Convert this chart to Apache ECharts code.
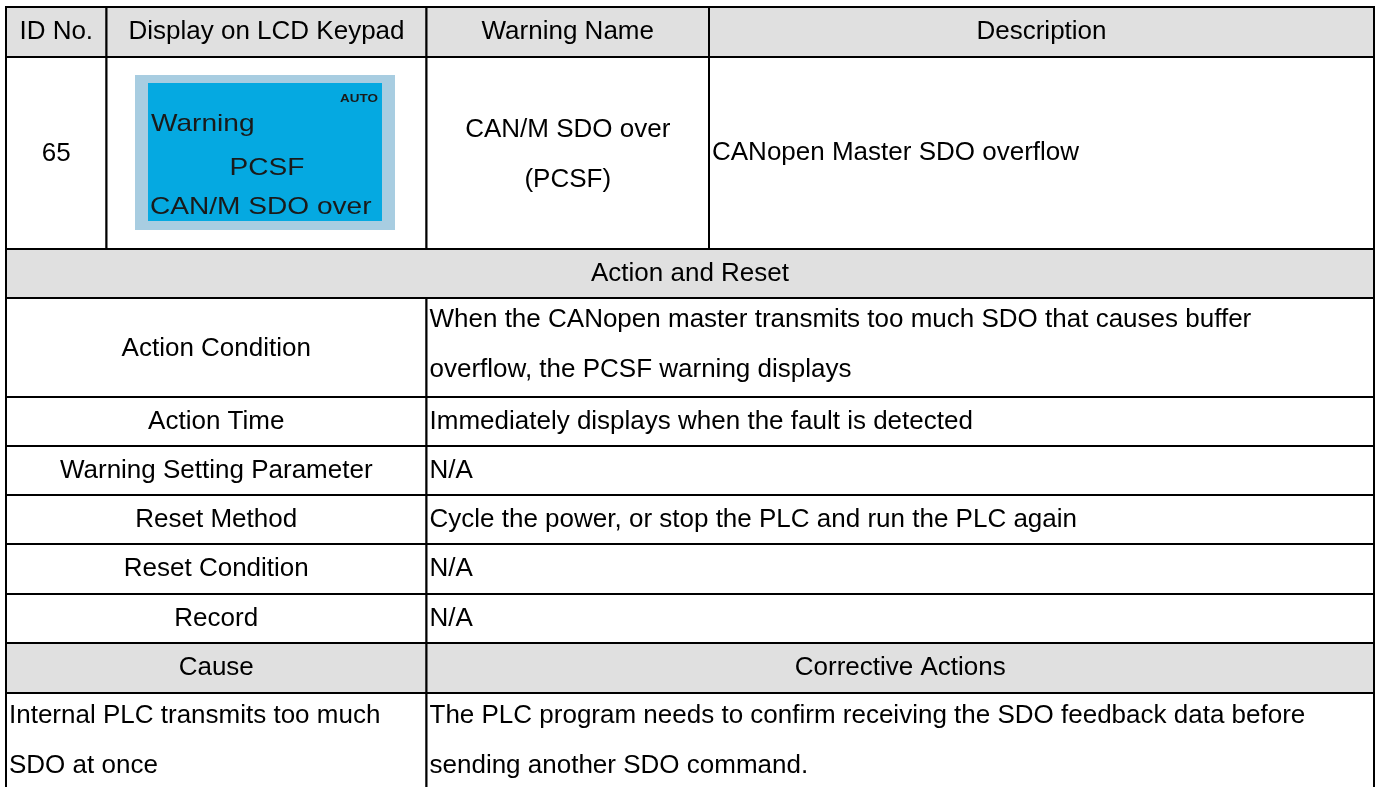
<!DOCTYPE html>
<html>
<head>
<meta charset="utf-8">
<script src="https://cdn.jsdelivr.net/npm/echarts@6/dist/echarts.min.js"></script>
<style>
html,body{margin:0;padding:0;background:#fff;}
#chart{width:1379px;height:787px;}
</style>
</head>
<body>
<div id="chart"></div>
<script>
// ---- table content ----
const headerLabels = ['ID No.', 'Display on LCD Keypad', 'Warning Name', 'Description'];
const warningId = '65';
const lcdAuto = 'AUTO';
const lcdTitle = 'Warning';
const lcdCode = 'PCSF';
const lcdName = 'CAN/M SDO over';
const warningName = ['CAN/M SDO over', '(PCSF)'];
const description = ['CANopen Master SDO overflow'];
const sectionTitle = 'Action and Reset';
const actionLabels = ['Action Condition', 'Action Time', 'Warning Setting Parameter', 'Reset Method', 'Reset Condition', 'Record'];
const actionValues = [
  ['When the CANopen master transmits too much SDO that causes buffer', 'overflow, the PCSF warning displays'],
  ['Immediately displays when the fault is detected'],
  ['N/A'],
  ['Cycle the power, or stop the PLC and run the PLC again'],
  ['N/A'],
  ['N/A']
];
const causeHeaders = ['Cause', 'Corrective Actions'];
const causeText = ['Internal PLC transmits too much', 'SDO at once'];
const correctiveText = ['The PLC program needs to confirm receiving the SDO feedback data before', 'sending another SDO command.'];

// ---- layout ----
const W = 1379, H = 787;
const colX = [6, 106.5, 426.5, 709, 1374];
const rowY = [7, 57, 249, 298, 397, 446, 495, 544, 594, 643, 693, 789];
const GRAY = '#e0e0e0';
const FONT = '"Liberation Sans", Arial, sans-serif';

const cells = [];
function cell(x0, x1, y0, y1, lines, opts) {
  cells.push(Object.assign({kind: 'cell', x0, x1, y0, y1, lines, fill: '#fff', align: 'center', dy: 0}, opts || {}));
}
// header
for (let i = 0; i < 4; i++) cell(colX[i], colX[i + 1], rowY[0], rowY[1], [headerLabels[i]], {fill: GRAY});
// warning row
cell(colX[0], colX[1], rowY[1], rowY[2], [warningId], {dy: 1});
cell(colX[1], colX[2], rowY[1], rowY[2], []);
cell(colX[2], colX[3], rowY[1], rowY[2], warningName, {dy: 2});
cell(colX[3], colX[4], rowY[1], rowY[2], description, {align: 'left'});
// section title
cell(colX[0], colX[4], rowY[2], rowY[3], [sectionTitle], {fill: GRAY});
// action rows
for (let i = 0; i < actionLabels.length; i++) {
  cell(colX[0], colX[2], rowY[3 + i], rowY[4 + i], [actionLabels[i]], {dy: i === 0 ? 1 : 0});
  cell(colX[2], colX[4], rowY[3 + i], rowY[4 + i], actionValues[i], {align: 'left', dy: i === 0 ? -3 : 0});
}
// cause header
cell(colX[0], colX[2], rowY[9], rowY[10], [causeHeaders[0]], {fill: GRAY});
cell(colX[2], colX[4], rowY[9], rowY[10], [causeHeaders[1]], {fill: GRAY});
// cause row
cell(colX[0], colX[2], rowY[10], rowY[11], causeText, {align: 'left', dy: 0});
cell(colX[2], colX[4], rowY[10], rowY[11], correctiveText, {align: 'left', dy: 0});

// LCD picture inside the display cell
cells.push({kind: 'box', x0: 135, x1: 395, y0: 75, y1: 230, fill: '#a8cde1'});
cells.push({kind: 'box', x0: 148, x1: 382, y0: 83, y1: 221, fill: '#05a9e1'});
cells.push({kind: 'lcdtext', x0: 378, y0: 99, x1: 378, y1: 99, text: lcdAuto, align: 'right', size: 11.5, bold: true});
cells.push({kind: 'lcdtext', x0: 151, y0: 124, x1: 151, y1: 124, text: lcdTitle, align: 'left', size: 24});
cells.push({kind: 'lcdtext', x0: 267, y0: 168, x1: 267, y1: 168, text: lcdCode, align: 'center', size: 24});
cells.push({kind: 'lcdtext', x0: 150, y0: 207, x1: 150, y1: 207, text: lcdName, align: 'left', size: 24});

function renderItem(params, api) {
  const c = cells[params.dataIndex];
  const p0 = api.coord([api.value(0), api.value(1)]);
  const p1 = api.coord([api.value(2), api.value(3)]);
  if (c.kind === 'box') {
    return {type: 'rect', shape: {x: p0[0], y: p0[1], width: p1[0] - p0[0], height: p1[1] - p0[1]},
      style: {fill: c.fill}};
  }
  if (c.kind === 'lcdtext') {
    return {type: 'text', x: p0[0], y: p0[1], scaleX: 1.17, scaleY: 1,
      style: {text: c.text, x: 0, y: 0, align: c.align, verticalAlign: 'middle',
        font: (c.bold ? 'bold ' : '') + c.size + 'px ' + FONT, fill: '#1a1a1a'}};
  }
  const children = [{
    type: 'rect',
    shape: {x: p0[0], y: p0[1], width: p1[0] - p0[0], height: p1[1] - p0[1]},
    style: {fill: c.fill, stroke: '#000', lineWidth: 2}
  }];
  if (c.lines.length) {
    const tx = c.align === 'center' ? (p0[0] + p1[0]) / 2 : p0[0] + 3;
    children.push({
      type: 'text',
      style: {
        text: c.lines.join('\n'), x: tx, y: (p0[1] + p1[1]) / 2 + c.dy,
        align: c.align, verticalAlign: 'middle', lineHeight: 50,
        font: '26px ' + FONT, fill: '#000'
      }
    });
  }
  return {type: 'group', children};
}

const chart = echarts.init(document.getElementById('chart'), null, {renderer: 'canvas'});
chart.setOption({
  animation: false,
  backgroundColor: '#fff',
  grid: {left: 0, right: 0, top: 0, bottom: 0},
  xAxis: {type: 'value', min: 0, max: W, show: false},
  yAxis: {type: 'value', min: 0, max: H, inverse: true, show: false},
  series: [{
    type: 'custom',
    silent: true,
    clip: false,
    renderItem,
    data: cells.map(c => [c.x0, c.y0, c.x1, c.y1])
  }]
});
</script>
</body>
</html>
